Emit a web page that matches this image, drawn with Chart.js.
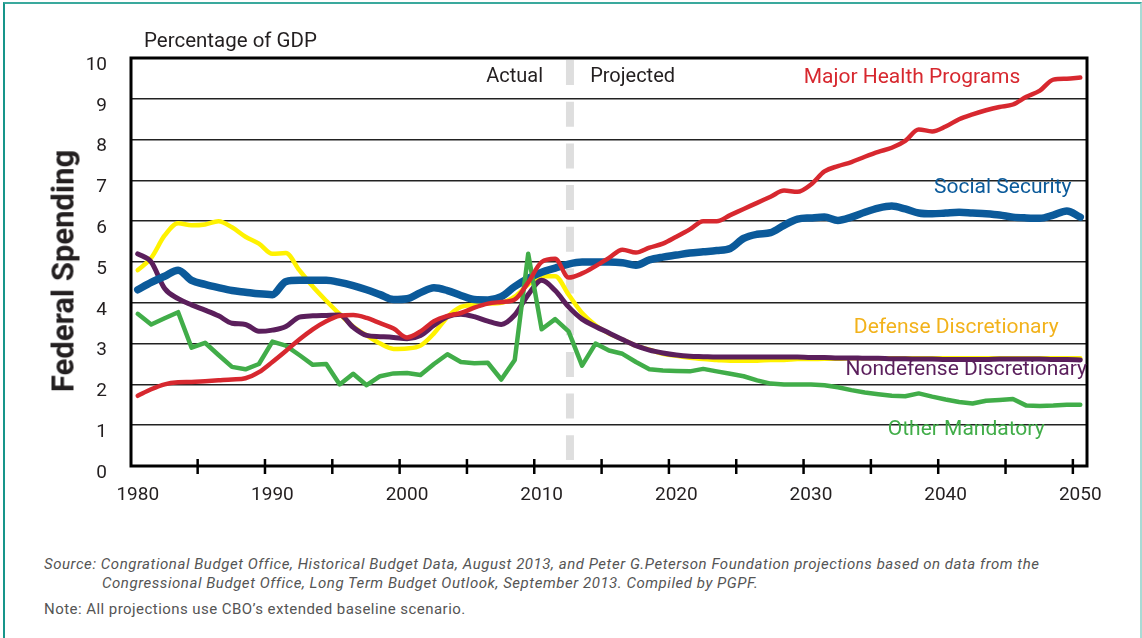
<!DOCTYPE html>
<html>
<head>
<meta charset="utf-8">
<script src="https://cdn.jsdelivr.net/npm/chart.js@4.4.1/dist/chart.umd.min.js"></script>
<style>
  body { margin: 0; background: #fff; font-family: Roboto, "Noto Sans", sans-serif; color: #231f20; }
  #wrap { position: relative; width: 1142px; height: 638px; overflow: hidden; }
  #frame { position: absolute; left: 3px; top: 2px; width: 1139px; height: 700px; box-sizing: border-box;
           border-left: 2px solid #17958a; border-top: 2px solid #3aa99d; border-right: 2px solid #a9dbd5; }
  #myChart { position: absolute; left: 0; top: 0; }
  .txt { position: absolute; white-space: nowrap; }
  #unit { left: 144px; top: 28px; font-size: 20.5px; line-height: 24px; }
  #ytitle { left: 63px; top: 271px; font-size: 31px; font-weight: bold; transform: translate(-50%, -50%) rotate(-90deg); }
  .src { font-size: 15px; line-height: 20px; color: #555; font-style: italic; letter-spacing: 0.55px; }
  #note { font-size: 15px; line-height: 20px; color: #555; left: 44px; top: 599px; letter-spacing: 0.45px; }
</style>
</head>
<body>
<div id="wrap">
  <div id="frame"></div>
  <canvas id="myChart" width="1142" height="520"></canvas>
  <div class="txt" id="unit">Percentage of GDP</div>
  <div class="txt" id="ytitle">Federal Spending</div>
  <div class="txt src" style="left:44px;top:554px;">Source: Congrational Budget Office, Historical Budget Data, August 2013, and Peter G.Peterson Foundation projections based on data from the</div>
  <div class="txt src" style="left:102px;top:573px;">Congressional Budget Office, Long Term Budget Outlook, September 2013. Compiled by PGPF.</div>
  <div class="txt" id="note">Note: All projections use CBO’s extended baseline scenario.</div>
</div>
<script>
// years 1980 .. 2050
const years = [];
for (let y = 1980; y <= 2050; y++) years.push(y);

const majorHealth = [
  1.72, 1.88, 2.0, 2.05, 2.06, 2.08, 2.1, 2.12, 2.15, 2.3,
  2.55, 2.82, 3.1, 3.35, 3.55, 3.68, 3.7, 3.63, 3.5, 3.37,
  3.15, 3.3, 3.55, 3.68, 3.75, 3.88, 3.98, 4.02, 4.08, 4.5,
  5.0, 5.08, 4.62, 4.72, 4.9, 5.1, 5.3, 5.23, 5.35, 5.45,
  5.62, 5.8, 6.0, 6.0, 6.15, 6.3, 6.45, 6.6, 6.75, 6.72,
  6.9, 7.22, 7.35, 7.45, 7.58, 7.7, 7.8, 7.97, 8.25, 8.2,
  8.32, 8.5, 8.62, 8.72, 8.8, 8.86, 9.05, 9.2, 9.47, 9.49,
  9.52
];
const socialSecurity = [
  4.32, 4.5, 4.65, 4.8, 4.55, 4.45, 4.37, 4.3, 4.26, 4.22,
  4.2, 4.52, 4.55, 4.55, 4.55, 4.5, 4.42, 4.32, 4.2, 4.08,
  4.1, 4.25, 4.37, 4.3, 4.18, 4.08, 4.07, 4.15, 4.4, 4.6,
  4.75, 4.85, 4.95, 5.0, 5.0, 5.0, 4.98, 4.92, 5.05, 5.12,
  5.17, 5.22, 5.25, 5.28, 5.33, 5.58, 5.68, 5.72, 5.9, 6.05,
  6.08, 6.1, 6.02, 6.1, 6.22, 6.32, 6.37, 6.3, 6.2, 6.18,
  6.2, 6.22, 6.2, 6.18, 6.15, 6.1, 6.08, 6.07, 6.15, 6.25,
  6.1
];
const otherMandatory = [
  3.73, 3.47, 3.62, 3.77, 2.9, 3.02, 2.72, 2.43, 2.37, 2.5,
  3.05, 2.95, 2.72, 2.48, 2.5, 2.0, 2.26, 1.98, 2.2, 2.27,
  2.28, 2.23, 2.5, 2.74, 2.55, 2.52, 2.53, 2.12, 2.6, 5.2,
  3.35, 3.6, 3.3, 2.46, 3.0, 2.83, 2.75, 2.55, 2.37, 2.34,
  2.33, 2.32, 2.38, 2.32, 2.26, 2.2, 2.1, 2.02, 2.0, 2.0,
  2.0, 1.98, 1.93, 1.86, 1.8, 1.76, 1.72, 1.71, 1.78, 1.7,
  1.63, 1.57, 1.53, 1.6, 1.62, 1.64, 1.48, 1.47, 1.48, 1.5,
  1.5
];
const nondefense = [
  5.2, 5.0, 4.35, 4.1, 3.95, 3.82, 3.68, 3.5, 3.47, 3.3,
  3.33, 3.42, 3.65, 3.68, 3.69, 3.7, 3.4, 3.2, 3.17, 3.15,
  3.12, 3.2, 3.45, 3.66, 3.72, 3.66, 3.55, 3.47, 3.7, 4.2,
  4.55, 4.3, 3.9, 3.6, 3.42, 3.26, 3.1, 2.95, 2.84, 2.77,
  2.72, 2.69, 2.68, 2.67, 2.67, 2.67, 2.67, 2.67, 2.67, 2.67,
  2.66, 2.66, 2.65, 2.65, 2.64, 2.64, 2.63, 2.63, 2.62, 2.62,
  2.61, 2.61, 2.61, 2.61, 2.62, 2.62, 2.62, 2.62, 2.61, 2.61,
  2.6
];
const defense = [
  4.8, 5.1, 5.65, 5.95, 5.9, 5.92, 6.0, 5.85, 5.62, 5.45,
  5.2, 5.22, 4.8, 4.4, 4.05, 3.72, 3.42, 3.2, 3.0, 2.87,
  2.88, 2.95, 3.25, 3.65, 3.9, 3.95, 3.98, 4.0, 4.15, 4.45,
  4.65, 4.65, 4.2, 3.75, 3.45, 3.25, 3.1, 2.95, 2.85, 2.75,
  2.7, 2.65, 2.62, 2.6, 2.58, 2.58, 2.58, 2.6, 2.6, 2.62,
  2.62, 2.63, 2.63, 2.64, 2.64, 2.64, 2.64, 2.64, 2.64, 2.64,
  2.64, 2.64, 2.64, 2.64, 2.64, 2.64, 2.64, 2.64, 2.64, 2.64,
  2.64
];

const yTicks = [0, 1, 2, 3, 4, 5, 6, 7, 8, 9, 10];
const xLabels = [1980, 1990, 2000, 2010, 2020, 2030, 2040, 2050];
const xTickMarks = [1985, 1990, 1995, 2000, 2005, 2010, 2015, 2020, 2025, 2030, 2035, 2040, 2045, 2050];
const projectionStart = 2012.1;

// text labels placed in data coordinates
const chartLabels = [
  { text: 'Actual', x: 2010.1, y: 9.53, align: 'right', color: '#231f20', size: 20 },
  { text: 'Projected', x: 2013.6, y: 9.53, align: 'left', color: '#231f20', size: 20 },
  { text: 'Major Health Programs', x: 2045.55, y: 9.51, align: 'right', color: '#d7282f', size: 21 },
  { text: 'Social Security', x: 2049.35, y: 6.81, align: 'right', color: '#0b5a9a', size: 21 },
  { text: 'Defense Discretionary', x: 2048.4, y: 3.38, align: 'right', color: '#f2b21b', size: 21 },
  { text: 'Nondefense Discretionary', x: 2050.5, y: 2.35, align: 'right', color: '#5b1f5c', size: 21 },
  { text: 'Other Mandatory', x: 2047.35, y: 0.88, align: 'right', color: '#41ad49', size: 21 }
];

function toPoints(values) {
  return values.map((v, i) => ({ x: years[i], y: v }));
}

function line(label, values, color, width, smooth) {
  return {
    label: label,
    data: toPoints(values),
    borderColor: color,
    borderWidth: width,
    pointRadius: 0,
    cubicInterpolationMode: smooth ? 'monotone' : 'default',
    tension: 0,
    borderCapStyle: 'round',
    borderJoinStyle: 'round',
    fill: false
  };
}

const decor = {
  id: 'decor',
  beforeDatasetsDraw(chart) {
    const { ctx, chartArea, scales } = chart;
    const px = scales.x.getPixelForValue(projectionStart);
    ctx.save();
    ctx.strokeStyle = '#dedede';
    ctx.lineWidth = 8;
    ctx.setLineDash([25, 16.7]);
    ctx.beginPath();
    ctx.moveTo(px, chartArea.top + 2);
    ctx.lineTo(px, chartArea.bottom - 6);
    ctx.stroke();
    ctx.restore();
  },
  afterDatasetsDraw(chart) {
    const { ctx, chartArea, scales } = chart;
    ctx.save();
    ctx.strokeStyle = '#000';
    ctx.lineWidth = 3;
    ctx.strokeRect(chartArea.left, chartArea.top, chartArea.right - chartArea.left, chartArea.bottom - chartArea.top);
    ctx.lineWidth = 2.5;
    xTickMarks.forEach(yr => {
      const px = scales.x.getPixelForValue(yr - 0.55);
      ctx.beginPath();
      ctx.moveTo(px, chartArea.bottom - 7);
      ctx.lineTo(px, chartArea.bottom + 8);
      ctx.stroke();
    });
    ctx.textBaseline = 'middle';
    chartLabels.forEach(l => {
      ctx.font = l.size + 'px Roboto, "Noto Sans", sans-serif';
      ctx.fillStyle = l.color;
      ctx.textAlign = l.align;
      ctx.fillText(l.text, scales.x.getPixelForValue(l.x), scales.y.getPixelForValue(l.y));
    });
    ctx.restore();
  }
};

new Chart(document.getElementById('myChart'), {
  type: 'line',
  data: {
    datasets: [
      line('Major Health Programs', majorHealth, '#d7282f', 4.5, true),
      line('Other Mandatory', otherMandatory, '#41ad49', 4.5, false),
      line('Social Security', socialSecurity, '#0b5a9a', 7.5, true),
      line('Nondefense Discretionary', nondefense, '#5b1f5c', 5, true),
      line('Defense Discretionary', defense, '#fff200', 4.5, true)
    ]
  },
  options: {
    responsive: false,
    animation: false,
    layout: { padding: { left: 0, top: 58, right: 55, bottom: 0 } },
    plugins: { legend: { display: false }, tooltip: { enabled: false } },
    scales: {
      x: {
        type: 'linear',
        min: 1979.5,
        max: 2050.5,
        afterBuildTicks: s => { s.ticks = xLabels.map(v => ({ value: v })); },
        afterFit: s => { s.height = 54; },
        grid: { display: false, drawTicks: false },
        border: { display: false },
        ticks: {
          padding: 18, color: '#231f20', font: { size: 19, family: 'Roboto' },
          maxRotation: 0, autoSkip: false, callback: v => String(v)
        }
      },
      y: {
        min: 0,
        max: 10,
        afterBuildTicks: s => { s.ticks = yTicks.map(v => ({ value: v })); },
        afterFit: s => { s.width = 131; },
        grid: { color: '#222', lineWidth: 1.5, drawTicks: false },
        border: { display: false },
        ticks: { padding: 24, labelOffset: 7, color: '#231f20', font: { size: 19, family: 'Roboto' } }
      }
    }
  },
  plugins: [decor]
});
</script>
</body>
</html>
